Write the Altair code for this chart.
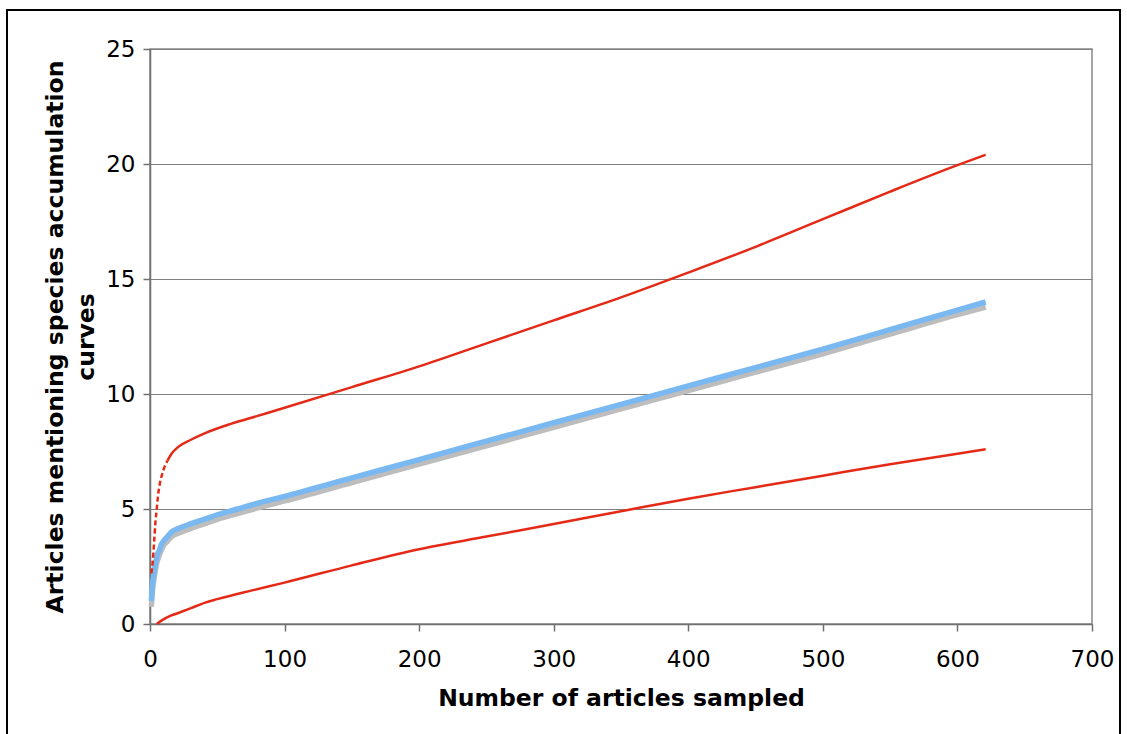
import altair as alt
import pandas as pd

# Upper confidence bound (red)
upper_x = [1, 2, 3, 4, 5, 6, 7, 8, 9, 10, 13, 16, 21, 30, 41, 60, 80, 100, 150, 200, 250, 300, 350, 400, 450, 500, 550, 600, 621]
upper_y = [2.2, 2.7, 3.5, 4.4, 5.0, 5.6, 6.0, 6.3, 6.5, 6.7, 7.1, 7.4, 7.7, 8.0, 8.3, 8.7, 9.05, 9.4, 10.3, 11.2, 12.2, 13.2, 14.2, 15.28, 16.4, 17.6, 18.8, 19.95, 20.4]

# Mean accumulation curve (blue)
mean_x = [1, 2, 3, 4, 5, 6, 7, 8, 10, 13, 16, 21, 30, 40, 50, 65, 80, 100, 150, 200, 250, 300, 350, 400, 450, 500, 550, 600, 621]
mean_y = [1.0, 1.8, 2.2, 2.6, 2.9, 3.1, 3.2, 3.4, 3.6, 3.8, 4.0, 4.15, 4.35, 4.55, 4.75, 5.0, 5.25, 5.55, 6.35, 7.15, 7.95, 8.75, 9.55, 10.35, 11.15, 11.95, 12.8, 13.65, 14.0]

# Second accumulation curve (grey), just under the blue one
grey_x = [1, 2, 3, 4, 5, 6, 7, 8, 10, 13, 16, 21, 30, 40, 50, 65, 80, 100, 150, 200, 250, 300, 350, 400, 450, 500, 550, 600, 621]
grey_y = [0.75, 1.55, 1.95, 2.35, 2.65, 2.85, 3.0, 3.15, 3.4, 3.6, 3.8, 3.95, 4.15, 4.35, 4.55, 4.8, 5.05, 5.35, 6.15, 6.95, 7.75, 8.55, 9.35, 10.15, 10.95, 11.75, 12.6, 13.45, 13.78]

# Lower confidence bound (red)
lower_x = [5, 10, 15, 21, 30, 41, 50, 75, 100, 150, 200, 250, 300, 350, 400, 450, 500, 550, 600, 621]
lower_y = [0.0, 0.2, 0.35, 0.48, 0.68, 0.93, 1.08, 1.45, 1.8, 2.55, 3.25, 3.8, 4.35, 4.9, 5.45, 5.95, 6.45, 6.95, 7.4, 7.6]

x_ticks = [0, 100, 200, 300, 400, 500, 600, 700]
y_ticks = [0, 5, 10, 15, 20, 25]

RED = "#e42a17"
BLUE = "#7ab8f2"
GREY = "#bdbdbd"
FONT = "DejaVu Sans"

W, H = 942, 575

upper = pd.DataFrame({"x": upper_x, "y": upper_y})
upper_start = upper[upper["x"] <= 13]
upper_rest = upper[upper["x"] >= 13]
mean = pd.DataFrame({"x": mean_x, "y": mean_y})
grey = pd.DataFrame({"x": grey_x, "y": grey_y})
lower = pd.DataFrame({"x": lower_x, "y": lower_y})

xs = alt.Scale(domain=[0, 700], nice=False)
ys = alt.Scale(domain=[0, 25], nice=False)

x_axis = alt.Axis(
    values=x_ticks, title="Number of articles sampled", grid=False,
    labelFont=FONT, labelFontSize=23, labelColor="#000", labelPadding=17,
    labelFlush=False, labelOverlap=False,
    titleFont=FONT, titleFontSize=23.5, titleFontWeight="bold", titleColor="#000",
    titlePadding=15, tickSize=7, tickColor="#707070", domainColor="#707070",
    domainWidth=1.5, tickWidth=1.5,
)
y_axis = alt.Axis(
    values=y_ticks, title=["Articles mentioning species accumulation", "curves"],
    grid=True, gridColor="#808080", gridWidth=1,
    labelFont=FONT, labelFontSize=23, labelColor="#000", labelPadding=8,
    labelFlush=False, labelOverlap=False,
    titleFont=FONT, titleFontSize=23.5, titleFontWeight="bold", titleColor="#000",
    titlePadding=7, titleLineHeight=31, tickSize=7, tickColor="#707070",
    domainColor="#707070", domainWidth=1.5, tickWidth=1.5,
)


def line(df, color, width, dash=None):
    kw = dict(color=color, strokeWidth=width, clip=False, interpolate="monotone")
    if dash:
        kw["strokeDash"] = dash
    return alt.Chart(df).mark_line(**kw).encode(
        x=alt.X("x:Q", scale=xs, axis=x_axis),
        y=alt.Y("y:Q", scale=ys, axis=y_axis),
    )


# Outer frame around the whole figure
frame = alt.Chart(pd.DataFrame({"a": [0]})).mark_rect(
    fill=None, stroke="#000", strokeWidth=2, clip=False
).encode(
    x=alt.value(-143), x2=alt.value(970), y=alt.value(-39), y2=alt.value(700)
)

chart = alt.layer(
    line(grey, GREY, 5.5),
    line(mean, BLUE, 5.5),
    line(upper_start, RED, 2.5, dash=[5, 3]),
    line(upper_rest, RED, 2.5),
    line(lower, RED, 2.5),
    frame,
).properties(
    width=W, height=H,
    autosize=alt.AutoSizeParams(type="none"),
    padding={"left": 150, "top": 49, "right": 35, "bottom": 110},
    background="white",
).configure_view(
    stroke="#888888", strokeWidth=1.5
)

chart.save("out.html", embed_options={"renderer": "svg", "actions": False})
